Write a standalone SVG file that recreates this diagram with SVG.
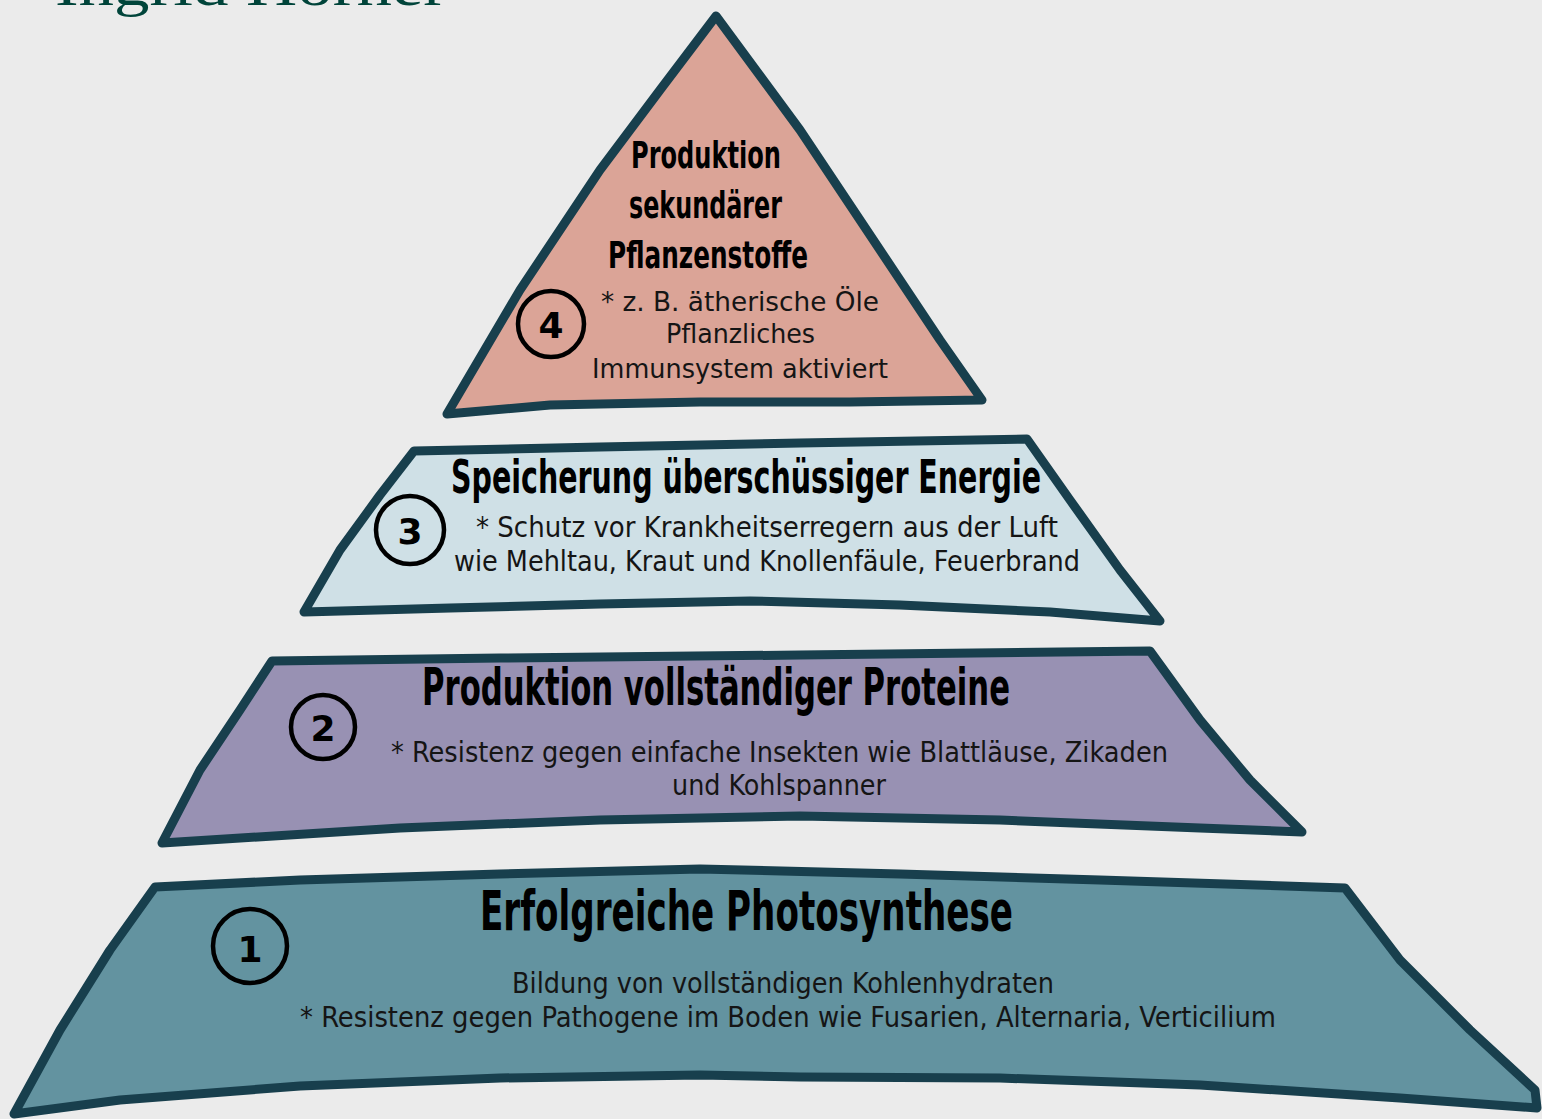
<svg xmlns="http://www.w3.org/2000/svg" width="1542" height="1119" viewBox="0 0 1542 1119">
<style>
.edge{stroke:#183f4d;stroke-width:9;stroke-linejoin:round;stroke-linecap:round}
.badge{fill:none;stroke:#000;stroke-width:4.5}
.num{font-family:"DejaVu Sans","Liberation Sans",sans-serif;font-weight:bold;font-size:36px;fill:#000;text-anchor:middle}
.title{font-family:"DejaVu Sans Condensed","DejaVu Sans",sans-serif;font-weight:bold;fill:#000}
.body{font-family:"DejaVu Sans Condensed","DejaVu Sans",sans-serif;font-weight:normal;fill:#151515}
.brand{font-family:"Liberation Serif","DejaVu Serif",serif;font-size:58px;fill:#00443a}
</style>
<rect width="1542" height="1119" fill="#ebebeb"/>
<text class="brand" x="55" y="5" textLength="392" lengthAdjust="spacingAndGlyphs">Ingrid Hörner</text>

<g id="layer1">
<path class="edge" fill="#6393a0" d="M155,887 L300,880 L500,874 L700,869 L900,874 L1100,880 L1345,888 L1400,960 L1470,1030 L1535,1090 L1537,1108 L1400,1098 L1200,1085 L1000,1078 L800,1077 L700,1075 L500,1078 L300,1086 L120,1100 L14,1114 L60,1030 L110,950 Z"/>
<circle class="badge" cx="250" cy="946" r="37"/>
<text class="num" x="250" y="962" font-size="44">1</text>
<text class="title" x="480" y="930" font-size="56" textLength="533" lengthAdjust="spacingAndGlyphs">Erfolgreiche Photosynthese</text>
<text class="body" x="512" y="993" font-size="28" textLength="542" lengthAdjust="spacingAndGlyphs">Bildung von vollständigen Kohlenhydraten</text>
<text class="body" x="300" y="1027" font-size="28" textLength="976" lengthAdjust="spacingAndGlyphs">* Resistenz gegen Pathogene im Boden wie Fusarien, Alternaria, Verticilium</text>
</g>

<g id="layer2">
<path class="edge" fill="#9891b3" d="M272,661 L500,658 L800,655 L1150,651 L1200,720 L1250,780 L1302,832 L1200,828 L1000,820 L800,816 L600,820 L400,828 L162,843 L200,770 L240,710 Z"/>
<circle class="badge" cx="323" cy="727" r="32"/>
<text class="num" x="323" y="741">2</text>
<text class="title" x="422" y="705" font-size="52" textLength="588" lengthAdjust="spacingAndGlyphs">Produktion vollständiger Proteine</text>
<text class="body" x="391" y="762" font-size="28" textLength="777" lengthAdjust="spacingAndGlyphs">* Resistenz gegen einfache Insekten wie Blattläuse, Zikaden</text>
<text class="body" x="672" y="795" font-size="28" textLength="214" lengthAdjust="spacingAndGlyphs">und Kohlspanner</text>
</g>

<g id="layer3">
<path class="edge" fill="#cfe0e6" d="M414,451 L600,447 L800,443 L1027,439 L1070,500 L1120,570 L1160,621 L1050,612 L900,605 L750,601 L600,604 L450,608 L304,612 L340,550 L380,495 Z"/>
<circle class="badge" cx="410" cy="530" r="34"/>
<text class="num" x="410" y="544">3</text>
<text class="title" x="451" y="493" font-size="46" textLength="590" lengthAdjust="spacingAndGlyphs">Speicherung überschüssiger Energie</text>
<text class="body" x="476" y="537" font-size="28" textLength="582" lengthAdjust="spacingAndGlyphs">* Schutz vor Krankheitserregern aus der Luft</text>
<text class="body" x="454" y="571" font-size="28" textLength="626" lengthAdjust="spacingAndGlyphs">wie Mehltau, Kraut und Knollenfäule, Feuerbrand</text>
</g>

<g id="layer4">
<path class="edge" fill="#dba497" d="M716,16 L800,130 L880,250 L940,340 L982,400 L850,402 L700,402 L550,405 L447,414 L520,290 L600,170 L660,90 Z"/>
<circle class="badge" cx="551" cy="324" r="33"/>
<text class="num" x="551" y="338">4</text>
<text class="title" x="631" y="168" font-size="38" textLength="150" lengthAdjust="spacingAndGlyphs">Produktion</text>
<text class="title" x="629" y="218" font-size="38" textLength="153" lengthAdjust="spacingAndGlyphs">sekundärer</text>
<text class="title" x="608" y="268" font-size="38" textLength="200" lengthAdjust="spacingAndGlyphs">Pflanzenstoffe</text>
<text class="body" x="601" y="311" font-size="27" textLength="278" lengthAdjust="spacingAndGlyphs">* z. B.  ätherische Öle</text>
<text class="body" x="666" y="343" font-size="27" textLength="149" lengthAdjust="spacingAndGlyphs">Pflanzliches</text>
<text class="body" x="592" y="378" font-size="27" textLength="296" lengthAdjust="spacingAndGlyphs">Immunsystem aktiviert</text>
</g>
</svg>
